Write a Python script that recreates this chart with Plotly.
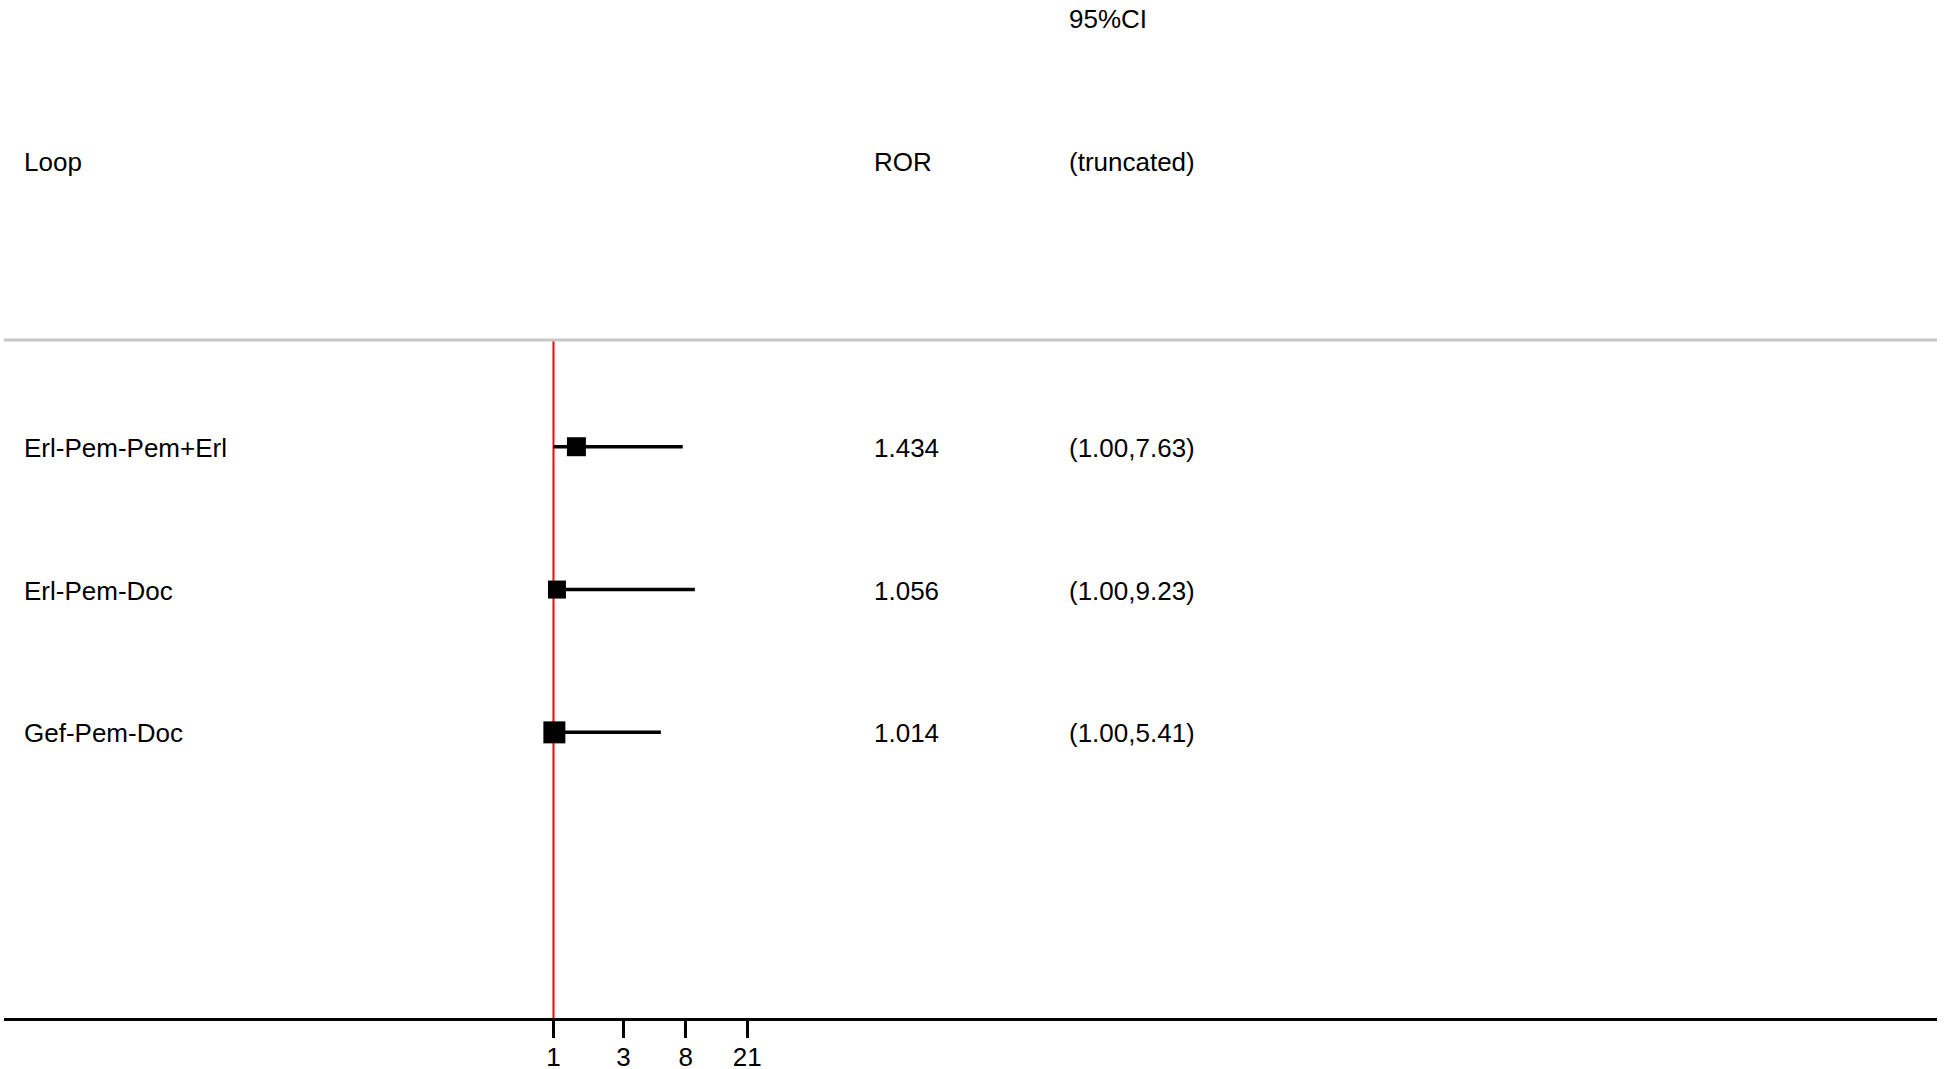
import plotly.graph_objects as go

# ---- data ----
loops = ["Erl-Pem-Pem+Erl", "Erl-Pem-Doc", "Gef-Pem-Doc"]
ror = [1.434, 1.056, 1.014]
ci_low = [1.00, 1.00, 1.00]
ci_high = [7.63, 9.23, 5.41]
tick_vals = [1, 3, 8, 21]
tick_text = ["1", "3", "8", "21"]
header_col1 = "Loop"
header_col2 = "ROR"
header_col3_top = "95%CI"
header_col3 = "(truncated)"

# ---- styling ----
W, H = 1945, 1069
ML, MR, MT, MB = 4, 8, 0, 51
PW = W - ML - MR
FONT = "Liberation Sans, Arial, sans-serif"
FS = 26
box_sizes = [19, 18, 22]

rows = list(range(1, len(loops) + 1))

fig = go.Figure()

# CI lines
xs, ys = [], []
for lo, hi, r in zip(ci_low, ci_high, rows):
    xs += [lo, hi, None]
    ys += [r, r, None]
fig.add_trace(go.Scatter(x=xs, y=ys, mode="lines",
                         line=dict(color="black", width=3.5),
                         hoverinfo="skip", showlegend=False))
# point estimates
fig.add_trace(go.Scatter(x=ror, y=rows, mode="markers",
                         marker=dict(symbol="square", size=box_sizes, color="#000000",
                                     opacity=1, line=dict(width=0)),
                         showlegend=False))

def px2paper(px):
    return (px - ML) / PW

anns = []
def add_text(txt, px, y):
    anns.append(dict(text=txt, x=px2paper(px - 2.5), xref="paper", y=y, yref="y",
                     xanchor="left", yanchor="middle", yshift=-1, showarrow=False,
                     font=dict(family=FONT, size=FS, color="black")))

add_text(header_col3_top, 1069, -2)
add_text(header_col1, 24.8, -1)
add_text(header_col2, 874.5, -1)
add_text(header_col3, 1069, -1)
for r, name, v, lo, hi in zip(rows, loops, ror, ci_low, ci_high):
    add_text(name, 24.8, r)
    add_text(f"{v:.3f}", 874.5, r)
    add_text(f"({lo:.2f},{hi:.2f})", 1069, r)

shapes = [
    dict(type="line", xref="paper", yref="y", x0=0, x1=1, y0=0.253, y1=0.253,
         line=dict(color="#c8c8c8", width=3)),
    dict(type="line", xref="x", yref="y", x0=1, x1=1, y0=0.253, y1=5.0,
         line=dict(color="#ff0000", width=2), layer="below"),
]

fig.update_layout(
    width=W, height=H,
    margin=dict(l=ML, r=MR, t=MT, b=MB),
    paper_bgcolor="white", plot_bgcolor="white",
    annotations=anns, shapes=shapes,
    xaxis=dict(type="log", range=[-3.752, 9.447], showgrid=False, zeroline=False,
               showline=True, linecolor="black", linewidth=3, automargin=False,
               ticks="outside", ticklen=17, tickwidth=3, tickcolor="black",
               tickvals=tick_vals, ticktext=tick_text, ticklabelstandoff=-3,
               tickfont=dict(family=FONT, size=26, color="black")),
    yaxis=dict(range=[5.0, -2.128], showgrid=False, zeroline=False, automargin=False,
               showline=False, showticklabels=False, ticks=""),
    showlegend=False,
)

fig.write_html(
    "out.html",
    config={"displayModeBar": False},
    post_script="document.body.style.margin='0';document.body.style.overflow='hidden';",
)
